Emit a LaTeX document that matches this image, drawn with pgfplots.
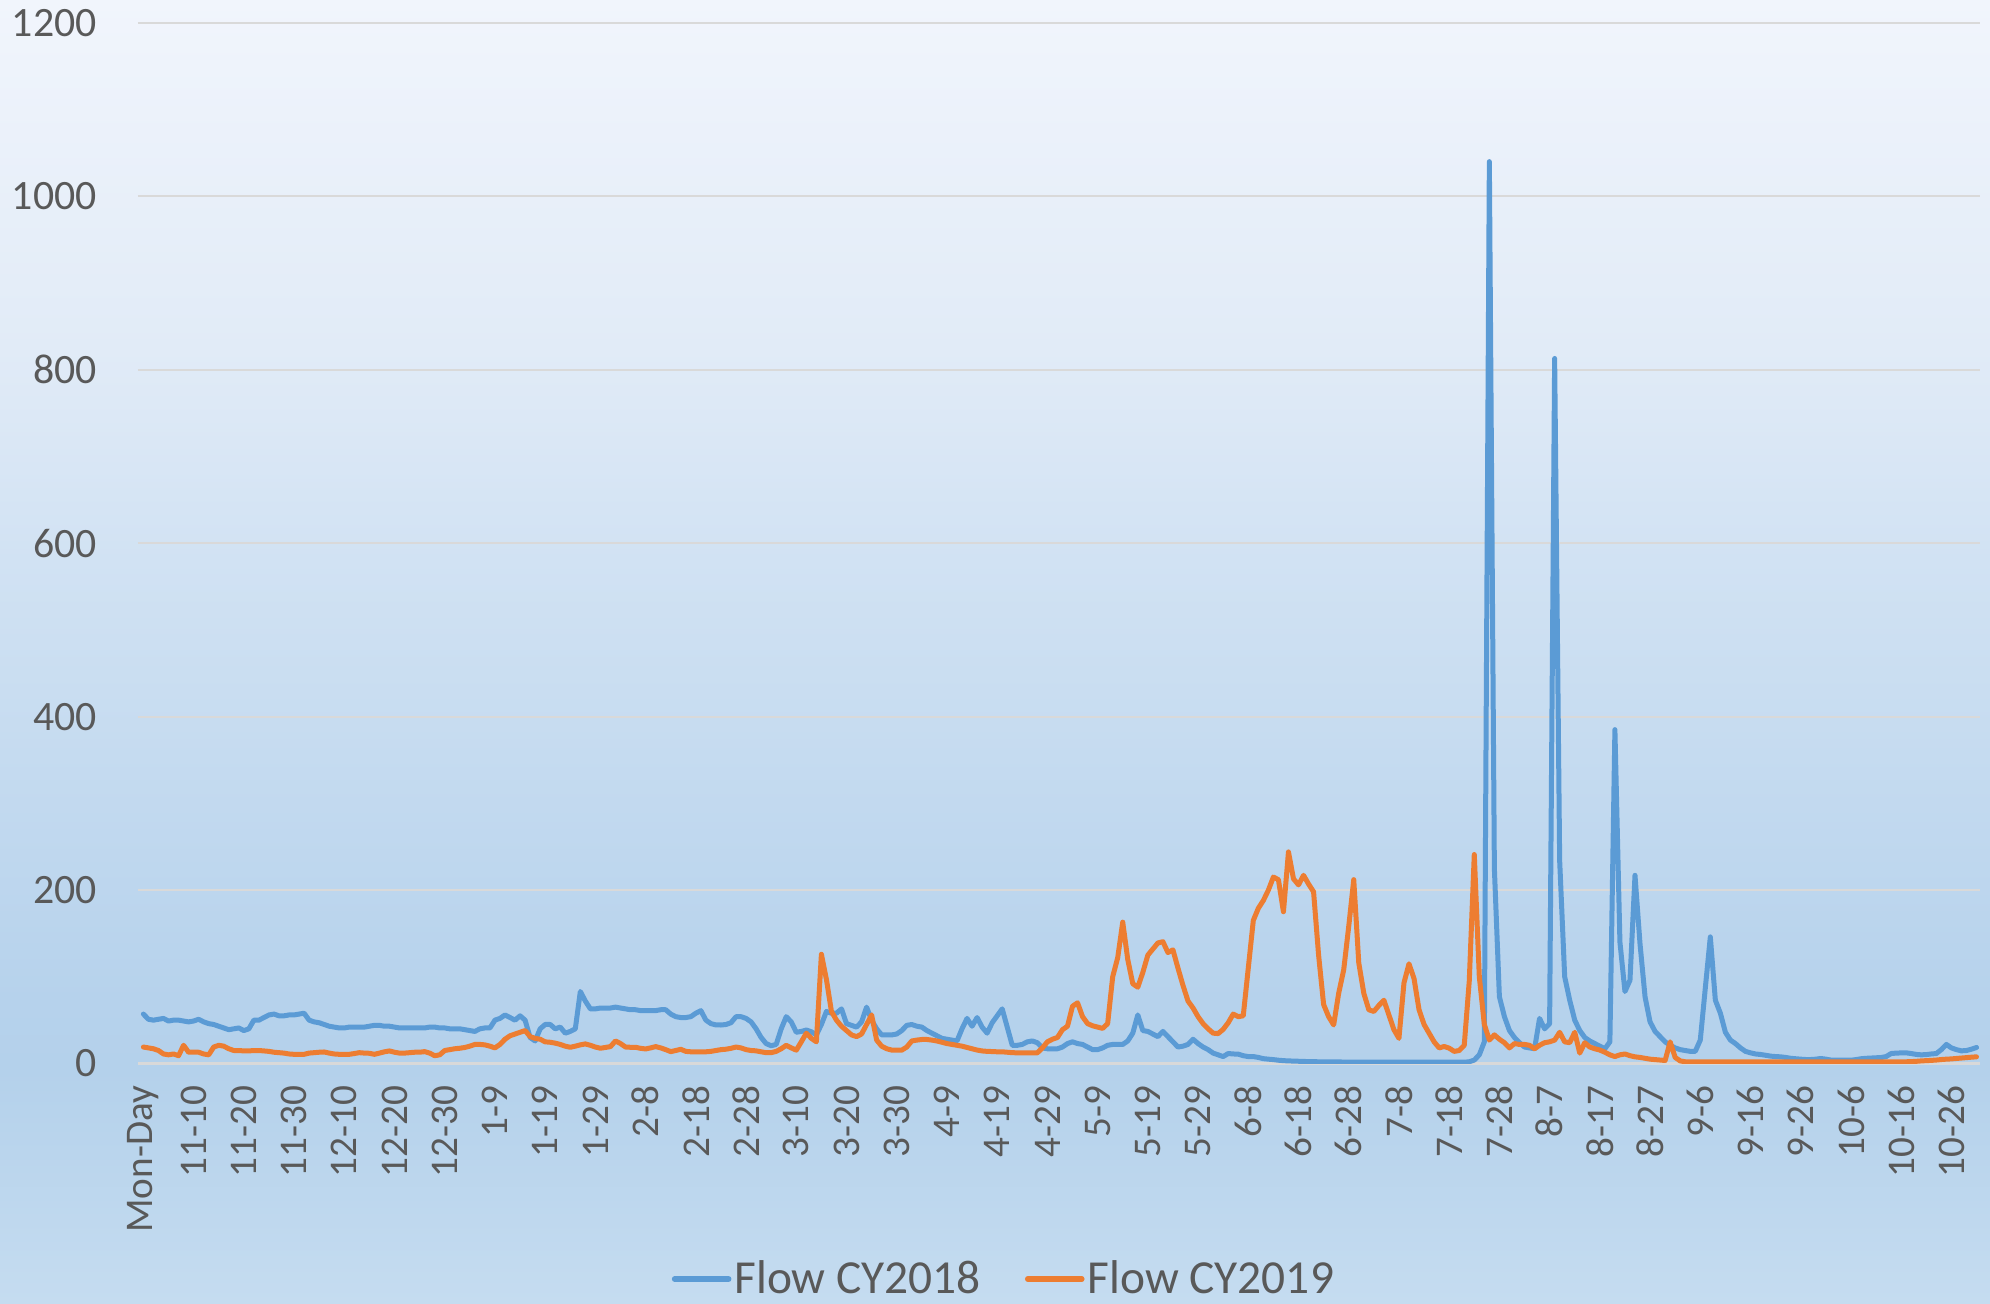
\documentclass[border=0pt]{standalone}
\usepackage{fontspec}
\setmainfont{Carlito}
\usepackage{pgfplots}
\usepackage{pgfplotstable}
\pgfplotsset{compat=1.18}
\definecolor{cblue}{HTML}{5B9BD5}
\definecolor{corange}{HTML}{ED7D31}
\definecolor{ctext}{HTML}{595959}
\definecolor{cgrid}{HTML}{D9D9D9}
\definecolor{bgA}{HTML}{C5DCF0}
\definecolor{bgB}{HTML}{B4D1EB}
\definecolor{bgC}{HTML}{B6D2EC}
\definecolor{bgD}{HTML}{D1E2F3}
\definecolor{bgE}{HTML}{E1EBF7}
\definecolor{bgF}{HTML}{F1F5FC}
\pgfdeclareverticalshading{bgshade}{995pt}{color(0pt)=(bgA); color(116.5pt)=(bgB); color(151.5pt)=(bgC); color(371.5pt)=(bgD); color(476.5pt)=(bgE); color(651.5pt)=(bgF)}
\pgfplotstableread{
i b o
0 57 19
1 51 18
2 50 17
3 51 15
4 52 11
5 49 10
6 50 11
7 50 9
8 49 21
9 48 13
10 49 13
11 51 13
12 48 11
13 46 10
14 45 19
15 43 21
16 41 20
17 39 17
18 40 15
19 41 15
20 38 14.5
21 40 14.5
22 50 15
23 50 15
24 53 14.5
25 56 14
26 57 13
27 55 12.5
28 55 12
29 56 11
30 56 10.6
31 57 10.6
32 58 10.6
33 50 12
34 48 12.5
35 47 13
36 45 13.3
37 43 12
38 42 11
39 41 10.6
40 41 10.6
41 42 10.6
42 42 11.5
43 42 12.5
44 42 12
45 43 11.8
46 44 10.6
47 44 12
48 43 13.5
49 43 14.5
50 42 13
51 41 12
52 41 12
53 41 12.5
54 41 13
55 41 13
56 41 13.7
57 42 12
58 42 9
59 41 10
60 41 15
61 40 16
62 40 17
63 40 17.6
64 39 18.5
65 38 20
66 37 22
67 40 22
68 41 21.5
69 41 20
70 50 18
71 52 22
72 56 28
73 53 32
74 50 34
75 55 36
76 50 38
77 30 31
78 26 29
79 40 28
80 45 25
81 45 24.5
82 40 23.5
83 42 22
84 35 20
85 37 18.7
86 40 20
87 83 21.5
88 72 22.6
89 63 21
90 63 19
91 64 17.6
92 64 18.5
93 64 19.5
94 65 26
95 64 23
96 63 19
97 62 18.7
98 62 18.7
99 61 17.5
100 61 16.8
101 61 18
102 61 19.5
103 62 18
104 62 16
105 57 13.7
106 54 15
107 53 16.4
108 53 14
109 54 13.5
110 58 13.5
111 61 13.5
112 50 13.5
113 46 14
114 44.5 15
115 44.4 16
116 45 16.5
117 47 17.5
118 54 19
119 54 18
120 52 16
121 48 15
122 40 14.6
123 30 13.5
124 23 12.5
125 20.5 12.5
126 22 14
127 40 17
128 54 21
129 48 18
130 36 15.4
131 37 25
132 38.6 35
133 36.6 29
134 33 25
135 45 126
136 60 97
137 58 60
138 58 50
139 63 43
140 46 38
141 44 33
142 42 31
143 48 34
144 65 45
145 50 56
146 40 27
147 33 20
148 33 17
149 33 15.5
150 34 15.4
151 38 15.4
152 44 19
153 45 26
154 43 27
155 42 27.7
156 38 27.7
157 35 27
158 32 26
159 29 24.5
160 28 23
161 27 22
162 26 21
163 40 20
164 52 18.5
165 43 17
166 53 15.5
167 42 14.5
168 35 14
169 47 13.8
170 55 13.5
171 63 13.5
172 42 13
173 21 12.5
174 21 12.3
175 22 12.3
176 25 12.3
177 26 12.3
178 24 12.3
179 18 18
180 17 25
181 17 28
182 17 30
183 19 39
184 23 43
185 25 66
186 23 70
187 22 54
188 19 46
189 16 43.5
190 16 42
191 18 40.5
192 21 46
193 22 100
194 22 122
195 22 163
196 26 120
197 35 92
198 56 88
199 38 105
200 37 125
201 34 132
202 31 139
203 37 140.5
204 31 128
205 25 131
206 19 110
207 20 90
208 22 72
209 28 64
210 23 54
211 19 46
212 16 40
213 12 35
214 10 34.5
215 8 39.4
216 11.5 47
217 11 57
218 10.8 54
219 9 55
220 8 110
221 8 165
222 7 179
223 5.6 188
224 5 200
225 4.5 215
226 3.8 212
227 3.3 175
228 3 244
229 2.8 213
230 2.6 206
231 2.4 217
232 2.2 207
233 2.1 198
234 2 125
235 2 68
236 1.9 54
237 1.8 44.5
238 1.8 81
239 1.7 108
240 1.6 158
241 1.5 212
242 1.5 116
243 1.5 81
244 1.5 62
245 1.5 60
246 1.5 67
247 1.5 73
248 1.5 56
249 1.5 39
250 1.5 29
251 1.5 93
252 1.5 115
253 1.5 98
254 1.5 62
255 1.5 45
256 1.5 35
257 1.5 25
258 1.5 18
259 1.5 19.6
260 1.5 17.7
261 1.5 14
262 1.5 15
263 1.5 21
264 2 95
265 4 241
266 10 100
267 25 45
268 1040 27
269 225 33
270 77 28
271 54 24
272 38 18
273 30 23
274 24 22
275 19 22
276 18 21
277 17 17
278 52 21
279 40 24
280 46 25
281 813 27
282 234 36
283 100 25
284 73 24
285 50 36
286 38 12
287 30 24
288 26 19
289 23 17
290 20 15.5
291 17 13
292 25 10
293 385 8
294 140 10
295 83 11
296 96 9
297 217 7.7
298 138 7
299 77 6
300 48 5
301 37 4.5
302 31 4
303 25 3.5
304 21 25
305 18 7
306 16 3
307 15 2
308 14 1.9
309 14 1.9
310 27 1.9
311 87 1.9
312 146 1.9
313 73 1.9
314 58 1.9
315 36 1.9
316 27 1.9
317 23 1.9
318 18 1.9
319 14 1.9
320 12.3 1.9
321 11 1.9
322 10.4 1.9
323 9.5 1.9
324 8.5 1.9
325 8 1.9
326 7.7 1.9
327 7 1.9
328 6 1.9
329 5.5 1.9
330 5 1.9
331 4.6 1.9
332 4.6 1.9
333 5 1.9
334 5.8 1.9
335 5 1.9
336 4 1.9
337 3.8 1.9
338 3.8 1.9
339 3.8 1.9
340 3.8 1.9
341 4.5 1.9
342 5.5 1.9
343 6 1.9
344 6.3 1.9
345 6.6 1.9
346 6.9 1.9
347 8 1.9
348 11.5 1.9
349 12 1.9
350 12.2 1.9
351 12.3 2
352 11.5 2.2
353 10.5 2.5
354 10 3
355 10.3 3.3
356 11 3.6
357 11.5 4
358 16 4.6
359 22 5
360 18 5.3
361 16 5.8
362 14.6 6.3
363 15 6.8
364 16.5 7.3
365 18.5 7.7
}\flowdata
\begin{document}
\begin{tikzpicture}
\useasboundingbox (0,0) rectangle (995pt,651.5pt);
\node[inner sep=0pt, outer sep=0pt, anchor=south west] at (0,0) {\pgfuseshading{bgshade}};
\begin{axis}[
  at={(69pt,119.75pt)}, anchor=south west,
  scale only axis, width=921pt, height=520.3pt,
  xmin=-1.075, xmax=365.7, ymin=0, ymax=1200,
  axis line style={draw=none},
  tick style={draw=none},
  ytick={0,200,...,1200},
  xtick={0,10,...,360},
  xticklabels={Mon-Day,11-10,11-20,11-30,12-10,12-20,12-30,1-9,1-19,1-29,2-8,2-18,2-28,3-10,3-20,3-30,4-9,4-19,4-29,5-9,5-19,5-29,6-8,6-18,6-28,7-8,7-18,7-28,8-7,8-17,8-27,9-6,9-16,9-26,10-6,10-16,10-26},
  ymajorgrids,
  major grid style={cgrid, line width=1.1pt},
  /pgf/number format/assume math mode=true,
  /pgf/number format/1000 sep={},
  yticklabel style={font=\fontsize{20.9}{24}\selectfont, text=ctext, anchor=east, inner sep=0pt, xshift=-20.5pt},
  xticklabel style={font=\fontsize{19.6}{23}\selectfont, text=ctext, yshift=-11pt, rotate=90, anchor=east, inner sep=0pt},
  legend columns=2,
  legend image code/.code={\draw[#1, line width=2.8pt, line cap=round] (0pt,0pt) -- (27pt,0pt);},
  legend style={at={(0.4704,-0.2071)}, anchor=center, draw=none, fill=none,
    font=\fontsize{23.7}{28}\selectfont, text=ctext,
    nodes={inner sep=1.5pt},
    /tikz/every even column/.append style={column sep=20.5pt}},
]
\addplot[cblue, line width=2.5pt, line join=round, line cap=round] table[x=i, y=b] {\flowdata};
\addlegendentry{Flow CY2018}
\addplot[corange, line width=2.5pt, line join=round, line cap=round] table[x=i, y=o] {\flowdata};
\addlegendentry{Flow CY2019}
\end{axis}
\end{tikzpicture}
\end{document}
